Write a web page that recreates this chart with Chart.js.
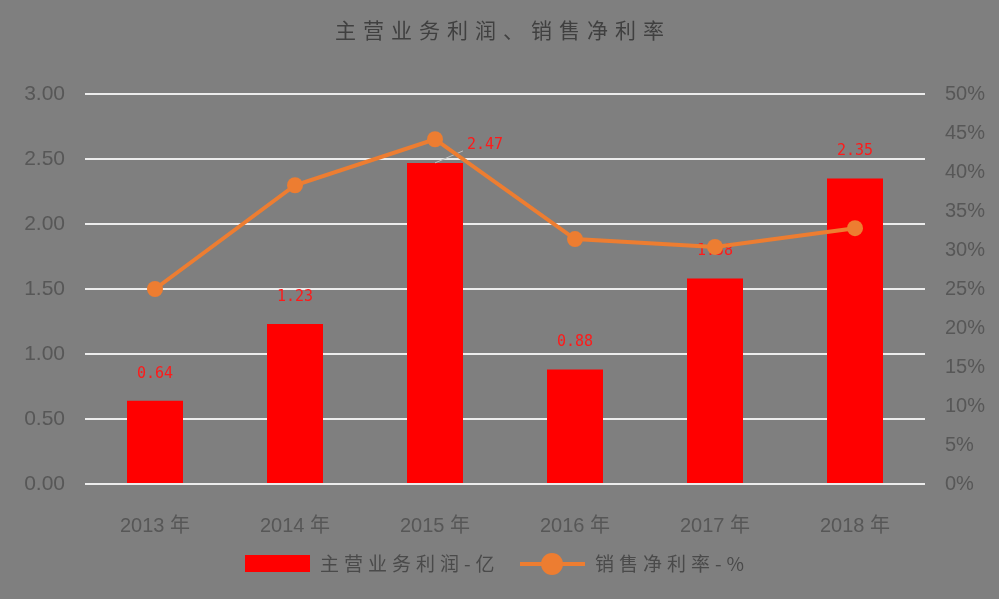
<!DOCTYPE html>
<html>
<head>
<meta charset="utf-8">
<script src="https://cdn.jsdelivr.net/npm/chart.js@4/dist/chart.umd.min.js"></script>
<style>
html,body{margin:0;padding:0;background:#7f7f7f;}
#wrap{width:999px;height:599px;}
</style>
</head>
<body>
<div id="wrap"><canvas id="c" width="999" height="599"></canvas></div>
<script>
const categories = ['2013 年','2014 年','2015 年','2016 年','2017 年','2018 年'];
const profit = [0.64, 1.23, 2.47, 0.88, 1.58, 2.35];
const netMargin = [25.0, 38.3, 44.2, 31.4, 30.4, 32.8];
const leftTicks = [0, 0.5, 1, 1.5, 2, 2.5, 3];
const titleText = '主营业务利润、销售净利率';
const seriesNames = ['主营业务利润-亿', '销售净利率-%'];

const BG = '#7f7f7f';
const TXT = '#575757';

const bgPlugin = {
  id: 'bg',
  beforeDraw(chart) {
    const ctx = chart.ctx;
    ctx.save();
    ctx.fillStyle = BG;
    ctx.fillRect(0, 0, chart.width, chart.height);
    ctx.restore();
  }
};

const decorPlugin = {
  id: 'decor',
  afterDatasetDraw(chart, args) {
    if (args.index !== 1) return;
    const ctx = chart.ctx;
    const meta = args.meta;
    ctx.save();
    ctx.font = '15px "DejaVu Sans Mono", monospace';
    ctx.fillStyle = '#ff1a1a';
    ctx.textAlign = 'center';
    ctx.textBaseline = 'middle';
    meta.data.forEach((bar, i) => {
      const txt = profit[i].toFixed(2);
      if (i === 2) {
        ctx.strokeStyle = '#bfbfbf';
        ctx.lineWidth = 1;
        ctx.beginPath();
        ctx.moveTo(bar.x, bar.y);
        ctx.lineTo(bar.x + 28, bar.y - 12);
        ctx.stroke();
        ctx.fillText(txt, bar.x + 50, bar.y - 18);
      } else {
        ctx.fillText(txt, bar.x, bar.y - 27);
      }
    });
    ctx.restore();
  },
  afterDraw(chart) {
    const ctx = chart.ctx;
    ctx.save();
    // title
    ctx.font = '21px "Noto Sans CJK SC", sans-serif';
    ctx.fillStyle = '#404040';
    ctx.textAlign = 'center';
    ctx.textBaseline = 'middle';
    ctx.letterSpacing = '7px';
    ctx.fillText(titleText, 503, 30);
    // legend
    ctx.letterSpacing = '5px';
    ctx.font = '19px "Noto Sans CJK SC", sans-serif';
    ctx.fillStyle = '#ff0000';
    ctx.fillRect(245, 555, 65, 17);
    ctx.fillStyle = '#4a4a4a';
    ctx.textAlign = 'left';
    ctx.fillText(seriesNames[0], 320, 564);
    ctx.strokeStyle = '#ed7d31';
    ctx.lineWidth = 4;
    ctx.beginPath();
    ctx.moveTo(520, 564);
    ctx.lineTo(585, 564);
    ctx.stroke();
    ctx.fillStyle = '#ed7d31';
    ctx.beginPath();
    ctx.arc(552, 564, 11, 0, Math.PI * 2);
    ctx.fill();
    ctx.fillStyle = '#4a4a4a';
    ctx.fillText(seriesNames[1], 595, 564);
    ctx.restore();
  }
};

new Chart(document.getElementById('c'), {
  data: {
    labels: categories,
    datasets: [
      {
        type: 'line',
        label: seriesNames[1],
        data: netMargin,
        yAxisID: 'y2',
        borderColor: '#ed7d31',
        backgroundColor: '#ed7d31',
        borderWidth: 4,
        pointRadius: 8,
        pointHoverRadius: 8,
        pointBorderWidth: 0,
        tension: 0,
        order: 0
      },
      {
        type: 'bar',
        label: seriesNames[0],
        data: profit,
        yAxisID: 'y',
        backgroundColor: '#ff0000',
        categoryPercentage: 1,
        barPercentage: 0.4,
        order: 1
      }
    ]
  },
  options: {
    responsive: false,
    animation: false,
    layout: { padding: { top: 94, left: 0, right: 0, bottom: 0 } },
    plugins: {
      legend: { display: false },
      title: { display: false },
      tooltip: { enabled: false }
    },
    scales: {
      x: {
        grid: { display: false },
        border: { display: false },
        ticks: {
          color: TXT,
          padding: 22,
          maxRotation: 0,
          font: { family: '"Liberation Sans", "Noto Sans CJK SC", sans-serif', size: 20 }
        },
        afterFit(s) { s.height = 115; }
      },
      y: {
        position: 'left',
        min: 0, max: 3,
        afterBuildTicks(s) { s.ticks = leftTicks.map(v => ({ value: v })); },
        grid: { color: '#ececec', lineWidth: 2, drawTicks: false },
        border: { display: false },
        ticks: {
          color: TXT,
          padding: 20,
          font: { family: '"Liberation Sans", sans-serif', size: 21 },
          callback: v => Number(v).toFixed(2)
        },
        afterFit(s) { s.width = 85; }
      },
      y2: {
        position: 'right',
        min: 0, max: 50,
        grid: { display: false, drawTicks: false },
        border: { display: false },
        ticks: {
          stepSize: 5,
          color: TXT,
          padding: 20,
          font: { family: '"Liberation Sans", sans-serif', size: 20 },
          callback: v => v + '%'
        },
        afterFit(s) { s.width = 74; }
      }
    }
  },
  plugins: [bgPlugin, decorPlugin]
});
</script>
</body>
</html>
